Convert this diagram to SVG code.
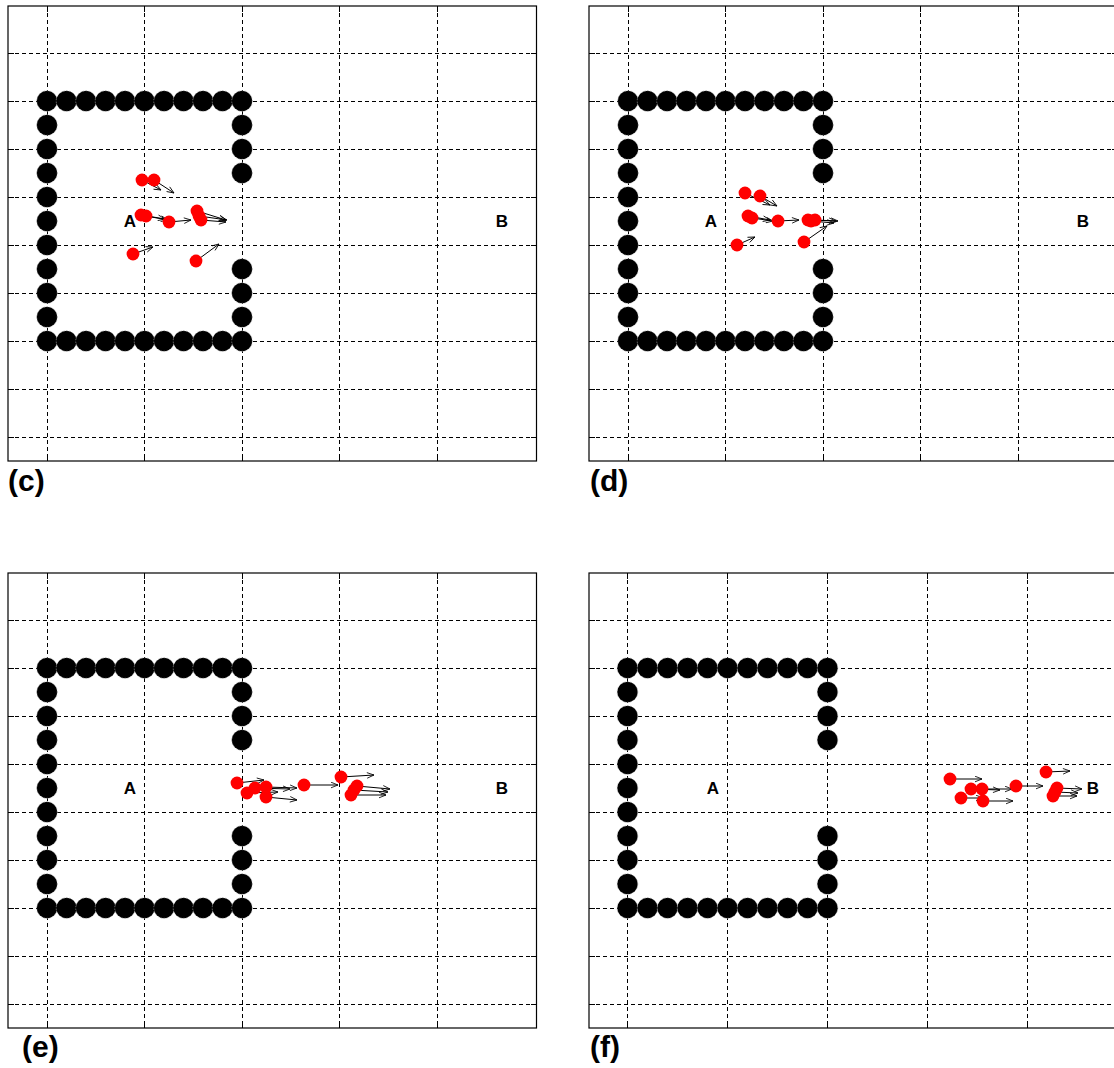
<svg xmlns="http://www.w3.org/2000/svg" xmlns:xlink="http://www.w3.org/1999/xlink" width="1114" height="1068" viewBox="0 0 1114 1068">
<style>
.frame{fill:none;stroke:#000;stroke-width:1.2}
.grid{fill:none;stroke:#000;stroke-width:1;stroke-dasharray:4 3;shape-rendering:crispEdges}
.tick{fill:none;stroke:#000;stroke-width:1;shape-rendering:crispEdges}
.post{fill:#000;stroke:#aaa;stroke-width:0.6;stroke-dasharray:1.5 1.5}
.dot{fill:#f00}
.arr line{fill:none;stroke:#000;stroke-width:1;marker-end:url(#head)}
.pt{font-family:"Liberation Sans",Arial,sans-serif;font-weight:bold;font-size:17px;text-anchor:middle;fill:#000}
.lbl{font-family:"Liberation Sans",Arial,sans-serif;font-weight:bold;font-size:30px;fill:#000}
</style>
<defs>
<marker id="head" viewBox="0 0 10 10" refX="10" refY="5" markerUnits="userSpaceOnUse" markerWidth="8" markerHeight="7" orient="auto">
<path d="M0,1 L10,5 L0,9" fill="none" stroke="#000" stroke-width="1.2"/>
</marker>
<circle id="post" r="10.3"/>
<g id="gridC">
<path class="grid" d="M47,6V461M144.5,6V461M242,6V461M339.5,6V461M437,6V461M8,53H536.5M8,101H536.5M8,149H536.5M8,197H536.5M8,245H536.5M8,293H536.5M8,341H536.5M8,389H536.5M8,437H536.5"/>
<path class="tick" d="M47,6v6M144.5,6v6M242,6v6M339.5,6v6M437,6v6M47,461v-6M144.5,461v-6M242,461v-6M339.5,461v-6M437,461v-6M8,53h6M8,101h6M8,149h6M8,197h6M8,245h6M8,293h6M8,341h6M8,389h6M8,437h6M536.5,53h-6M536.5,101h-6M536.5,149h-6M536.5,197h-6M536.5,245h-6M536.5,293h-6M536.5,341h-6M536.5,389h-6M536.5,437h-6"/>
<rect class="frame" x="8" y="6" width="528.5" height="455"/>
</g>
<g id="wallC">
<use href="#post" class="post" x="47" y="101"/><use href="#post" class="post" x="66.5" y="101"/><use href="#post" class="post" x="86" y="101"/><use href="#post" class="post" x="105.5" y="101"/><use href="#post" class="post" x="125" y="101"/><use href="#post" class="post" x="144.5" y="101"/><use href="#post" class="post" x="164" y="101"/><use href="#post" class="post" x="183.5" y="101"/><use href="#post" class="post" x="203" y="101"/><use href="#post" class="post" x="222.5" y="101"/><use href="#post" class="post" x="242" y="101"/>
<use href="#post" class="post" x="47" y="341"/><use href="#post" class="post" x="66.5" y="341"/><use href="#post" class="post" x="86" y="341"/><use href="#post" class="post" x="105.5" y="341"/><use href="#post" class="post" x="125" y="341"/><use href="#post" class="post" x="144.5" y="341"/><use href="#post" class="post" x="164" y="341"/><use href="#post" class="post" x="183.5" y="341"/><use href="#post" class="post" x="203" y="341"/><use href="#post" class="post" x="222.5" y="341"/><use href="#post" class="post" x="242" y="341"/>
<use href="#post" class="post" x="47" y="125"/><use href="#post" class="post" x="47" y="149"/><use href="#post" class="post" x="47" y="173"/><use href="#post" class="post" x="47" y="197"/><use href="#post" class="post" x="47" y="221"/><use href="#post" class="post" x="47" y="245"/><use href="#post" class="post" x="47" y="269"/><use href="#post" class="post" x="47" y="293"/><use href="#post" class="post" x="47" y="317"/>
<use href="#post" class="post" x="242" y="125"/><use href="#post" class="post" x="242" y="149"/><use href="#post" class="post" x="242" y="173"/><use href="#post" class="post" x="242" y="269"/><use href="#post" class="post" x="242" y="293"/><use href="#post" class="post" x="242" y="317"/>
</g>
</defs>
<rect width="1114" height="1068" fill="#fff"/>

<g id="panel-c">
<use href="#gridC"/>
<use href="#wallC"/>
<text class="pt" x="130" y="227">A</text>
<text class="pt" x="502" y="227">B</text>
<g class="arr">
<line x1="142" y1="180" x2="161" y2="190"/><line x1="154" y1="180" x2="174" y2="193"/><line x1="141" y1="215" x2="165" y2="219"/><line x1="146" y1="216" x2="168" y2="220"/><line x1="169" y1="222" x2="191" y2="220"/><line x1="197" y1="211" x2="226" y2="220"/><line x1="199" y1="216" x2="227" y2="220"/><line x1="201" y1="220" x2="226" y2="222"/><line x1="133" y1="254" x2="153" y2="247"/><line x1="196" y1="261" x2="219" y2="244"/>
</g>
<g class="agents">
<circle class="dot" cx="142" cy="180" r="6.4"/><circle class="dot" cx="154" cy="180" r="6.4"/><circle class="dot" cx="141" cy="215" r="6.4"/><circle class="dot" cx="146" cy="216" r="6.4"/><circle class="dot" cx="169" cy="222" r="6.4"/><circle class="dot" cx="197" cy="211" r="6.4"/><circle class="dot" cx="199" cy="216" r="6.4"/><circle class="dot" cx="201" cy="220" r="6.4"/><circle class="dot" cx="133" cy="254" r="6.4"/><circle class="dot" cx="196" cy="261" r="6.4"/>
</g>
<text class="lbl" x="8" y="491">(c)</text>
</g>

<g id="panel-d">
<use href="#gridC" transform="translate(581,0)"/>
<use href="#wallC" transform="translate(581,0)"/>
<text class="pt" x="711" y="227">A</text>
<text class="pt" x="1083" y="227">B</text>
<g class="arr">
<line x1="745" y1="193" x2="770" y2="205"/><line x1="760" y1="196" x2="777" y2="206"/><line x1="748" y1="216" x2="770" y2="220"/><line x1="752" y1="218" x2="773" y2="221"/><line x1="778" y1="221" x2="799" y2="220"/><line x1="808" y1="220" x2="836" y2="221"/><line x1="815" y1="220" x2="838" y2="221"/><line x1="811" y1="221" x2="834" y2="223"/><line x1="737" y1="245" x2="755" y2="237"/><line x1="804" y1="242" x2="827" y2="226"/>
</g>
<g class="agents">
<circle class="dot" cx="745" cy="193" r="6.4"/><circle class="dot" cx="760" cy="196" r="6.4"/><circle class="dot" cx="748" cy="216" r="6.4"/><circle class="dot" cx="752" cy="218" r="6.4"/><circle class="dot" cx="778" cy="221" r="6.4"/><circle class="dot" cx="808" cy="220" r="6.4"/><circle class="dot" cx="815" cy="220" r="6.4"/><circle class="dot" cx="811" cy="221" r="6.4"/><circle class="dot" cx="737" cy="245" r="6.4"/><circle class="dot" cx="804" cy="242" r="6.4"/>
</g>
<text class="lbl" x="590" y="491">(d)</text>
</g>

<g id="panel-e">
<use href="#gridC" transform="translate(0,567)"/>
<use href="#wallC" transform="translate(0,567)"/>
<text class="pt" x="130" y="794">A</text>
<text class="pt" x="502" y="794">B</text>
<g class="arr">
<line x1="237" y1="783" x2="264" y2="780"/><line x1="247" y1="793" x2="278" y2="792"/><line x1="255" y1="788" x2="290" y2="789"/><line x1="266" y1="787" x2="297" y2="788"/><line x1="266" y1="797" x2="297" y2="800"/><line x1="304" y1="785" x2="338" y2="785"/><line x1="341" y1="777" x2="374" y2="775"/><line x1="357" y1="786" x2="390" y2="789"/><line x1="354" y1="790" x2="388" y2="792"/><line x1="351" y1="795" x2="386" y2="795"/>
</g>
<g class="agents">
<circle class="dot" cx="237" cy="783" r="6.4"/><circle class="dot" cx="247" cy="793" r="6.4"/><circle class="dot" cx="255" cy="788" r="6.4"/><circle class="dot" cx="266" cy="787" r="6.4"/><circle class="dot" cx="266" cy="797" r="6.4"/><circle class="dot" cx="304" cy="785" r="6.4"/><circle class="dot" cx="341" cy="777" r="6.4"/><circle class="dot" cx="357" cy="786" r="6.4"/><circle class="dot" cx="354" cy="790" r="6.4"/><circle class="dot" cx="351" cy="795" r="6.4"/>
</g>
<text class="lbl" x="22" y="1057">(e)</text>
</g>

<g id="panel-f">
<path class="grid" d="M627.5,573V1028M727.5,573V1028M827.5,573V1028M927.5,573V1028M1027.5,573V1028M589,620H1114M589,668H1114M589,716H1114M589,764H1114M589,812H1114M589,860H1114M589,908H1114M589,956H1114M589,1004H1114"/>
<path class="tick" d="M627.5,573v6M727.5,573v6M827.5,573v6M927.5,573v6M1027.5,573v6M627.5,1028v-6M727.5,1028v-6M827.5,1028v-6M927.5,1028v-6M1027.5,1028v-6M589,620h6M589,668h6M589,716h6M589,764h6M589,812h6M589,860h6M589,908h6M589,956h6M589,1004h6"/>
<rect class="frame" x="589" y="573" width="540" height="455"/>
<g class="wall">
<use href="#post" class="post" x="627.5" y="668"/><use href="#post" class="post" x="647.5" y="668"/><use href="#post" class="post" x="667.5" y="668"/><use href="#post" class="post" x="687.5" y="668"/><use href="#post" class="post" x="707.5" y="668"/><use href="#post" class="post" x="727.5" y="668"/><use href="#post" class="post" x="747.5" y="668"/><use href="#post" class="post" x="767.5" y="668"/><use href="#post" class="post" x="787.5" y="668"/><use href="#post" class="post" x="807.5" y="668"/><use href="#post" class="post" x="827.5" y="668"/>
<use href="#post" class="post" x="627.5" y="908"/><use href="#post" class="post" x="647.5" y="908"/><use href="#post" class="post" x="667.5" y="908"/><use href="#post" class="post" x="687.5" y="908"/><use href="#post" class="post" x="707.5" y="908"/><use href="#post" class="post" x="727.5" y="908"/><use href="#post" class="post" x="747.5" y="908"/><use href="#post" class="post" x="767.5" y="908"/><use href="#post" class="post" x="787.5" y="908"/><use href="#post" class="post" x="807.5" y="908"/><use href="#post" class="post" x="827.5" y="908"/>
<use href="#post" class="post" x="627.5" y="692"/><use href="#post" class="post" x="627.5" y="716"/><use href="#post" class="post" x="627.5" y="740"/><use href="#post" class="post" x="627.5" y="764"/><use href="#post" class="post" x="627.5" y="788"/><use href="#post" class="post" x="627.5" y="812"/><use href="#post" class="post" x="627.5" y="836"/><use href="#post" class="post" x="627.5" y="860"/><use href="#post" class="post" x="627.5" y="884"/>
<use href="#post" class="post" x="827.5" y="692"/><use href="#post" class="post" x="827.5" y="716"/><use href="#post" class="post" x="827.5" y="740"/><use href="#post" class="post" x="827.5" y="836"/><use href="#post" class="post" x="827.5" y="860"/><use href="#post" class="post" x="827.5" y="884"/>
</g>
<text class="pt" x="713" y="794">A</text>
<text class="pt" x="1093" y="794">B</text>
<g class="arr">
<line x1="950" y1="779" x2="982" y2="779"/><line x1="971" y1="789" x2="1000" y2="790"/><line x1="982" y1="789" x2="1012" y2="789"/><line x1="961" y1="798" x2="983" y2="798"/><line x1="983" y1="801" x2="1013" y2="801"/><line x1="1016" y1="786" x2="1043" y2="786"/><line x1="1046" y1="772" x2="1070" y2="771"/><line x1="1057" y1="788" x2="1082" y2="789"/><line x1="1055" y1="792" x2="1078" y2="793"/><line x1="1053" y1="796" x2="1077" y2="796"/>
</g>
<g class="agents">
<circle class="dot" cx="950" cy="779" r="6.4"/><circle class="dot" cx="971" cy="789" r="6.4"/><circle class="dot" cx="982" cy="789" r="6.4"/><circle class="dot" cx="961" cy="798" r="6.4"/><circle class="dot" cx="983" cy="801" r="6.4"/><circle class="dot" cx="1016" cy="786" r="6.4"/><circle class="dot" cx="1046" cy="772" r="6.4"/><circle class="dot" cx="1057" cy="788" r="6.4"/><circle class="dot" cx="1055" cy="792" r="6.4"/><circle class="dot" cx="1053" cy="796" r="6.4"/>
</g>
<text class="lbl" x="590" y="1057">(f)</text>
</g>
</svg>
